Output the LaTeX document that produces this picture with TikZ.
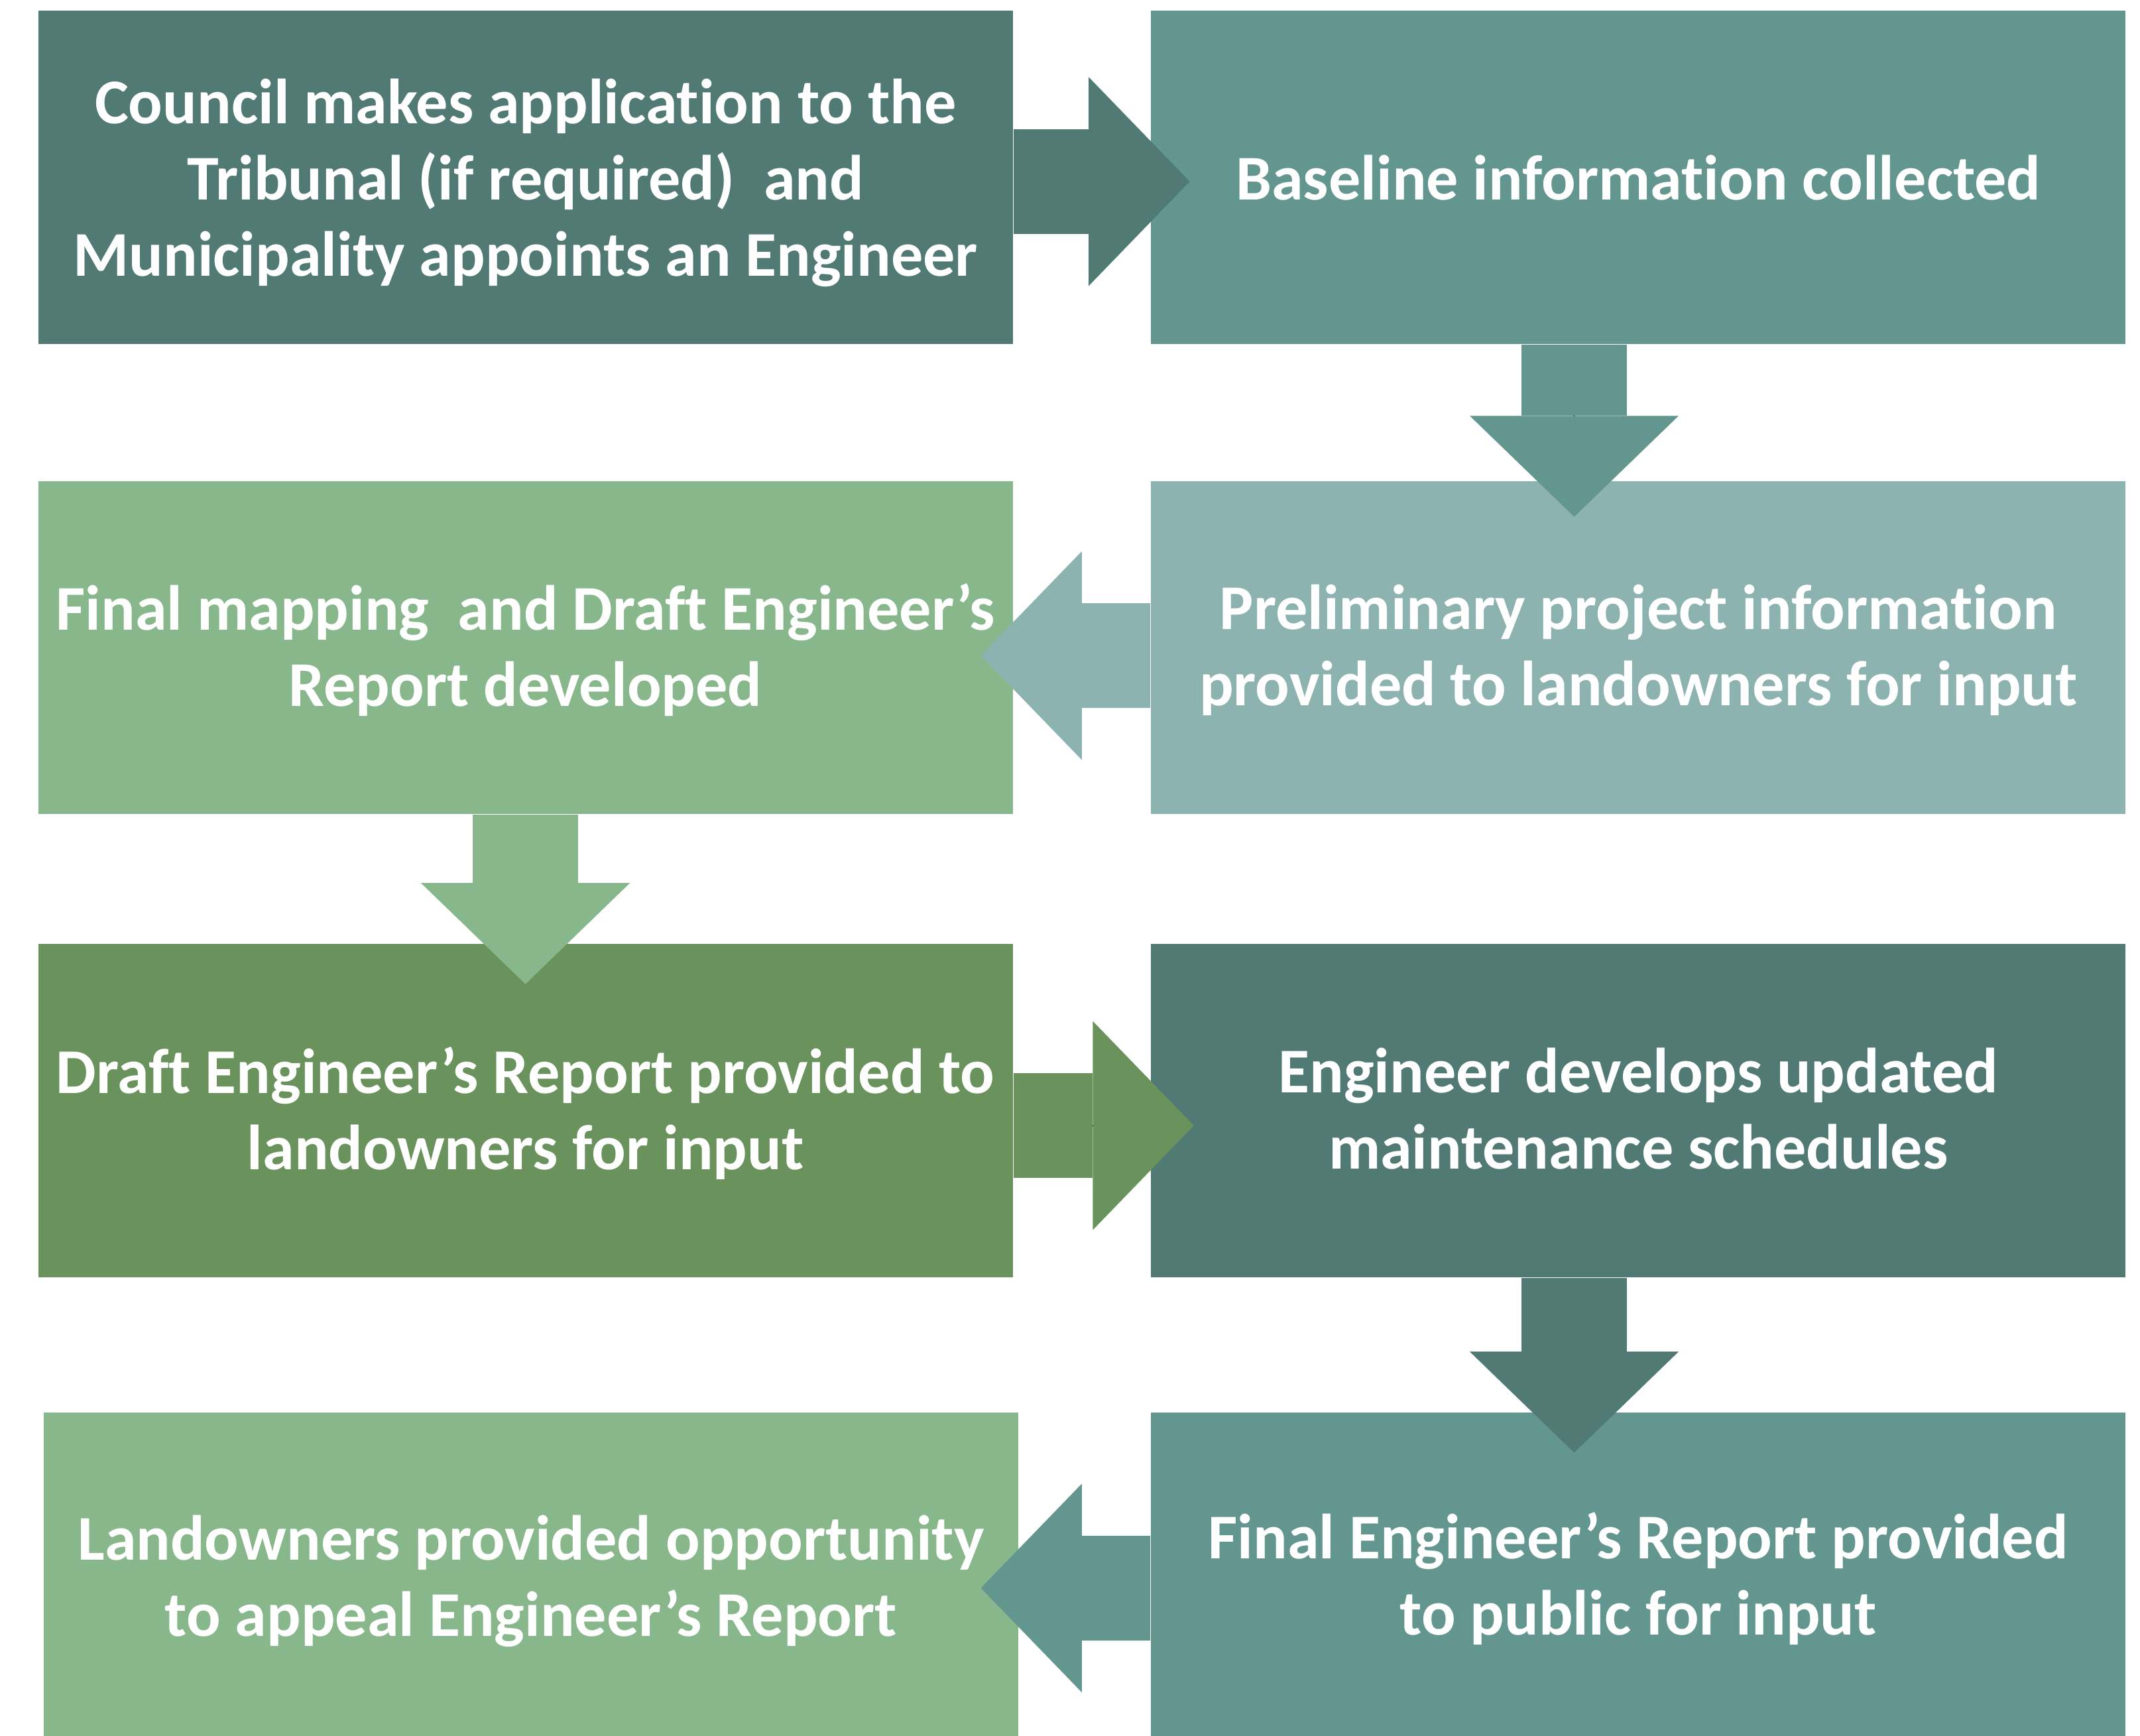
\documentclass[tikz,border=0pt]{standalone}
\usepackage{fontspec}
\setmainfont{Carlito}[RawFeature={-liga;-clig;-calt;-dlig}]
\usepackage{tikz}
\usetikzlibrary{arrows.meta, positioning}

\definecolor{tealdark}{HTML}{517A75}
\definecolor{tealmid}{HTML}{63968F}
\definecolor{teallight}{HTML}{8CB3AF}
\definecolor{greenlight}{HTML}{87B78A}
\definecolor{greenmid}{HTML}{6A925C}

\tikzset{
  stage/.style={minimum width=7.14cm, minimum height=2.44cm, inner sep=0pt,
    text depth=0.035cm, text=white, align=center,
    font=\fontsize{13.3}{15.9}\selectfont\bfseries},
  flow/.style={line width=0.77cm,
    preaction={draw, arrows=-, shorten >=0.70cm},
    -{Triangle[length=0.74cm, width=1.53cm, line width=0pt]}}
}

\begin{document}
\begin{tikzpicture}
\useasboundingbox (0,0) rectangle (15.68,-12.72);

\node[stage, fill=tealdark, text depth=0pt] (apply) at (3.85,-1.30) {Council makes application to the\\Tribunal (if required)\ \ and\\Municipality appoints an Engineer};
\node[stage, fill=tealmid, text depth=0pt, right=1cm of apply] (baseline) {Baseline information collected};
\node[stage, fill=teallight, below=0.99cm of baseline] (prelim) {Preliminary project information\\provided to landowners for input};
\node[stage, fill=greenlight, left=1cm of prelim] (mapping) {Final mapping\ \ and Draft Engineer’s\\Report developed};
\node[stage, fill=greenmid, below=0.94cm of mapping] (draft) {Draft Engineer’s Report provided to\\landowners for input};
\node[stage, fill=tealdark, right=1cm of draft] (schedules) {Engineer develops updated\\maintenance schedules};
\node[stage, fill=tealmid, minimum height=2.39cm, below=0.98cm of schedules] (final) {Final Engineer’s Report provided\\to public for input};
\node[stage, fill=greenlight, minimum height=2.39cm, text depth=0pt, left=0.96cm of final] (appeal) {Landowners provided opportunity\\to appeal Engineer’s Report};

\draw[flow, tealdark] ([yshift=-0.03cm]apply.east) -- ([xshift=0.29cm,yshift=-0.03cm]baseline.west);
\draw[flow, tealmid] ([xshift=-0.47cm]baseline.south) -- ([xshift=-0.47cm,yshift=-0.27cm]prelim.north);
\draw[flow, teallight] ([yshift=-0.06cm]prelim.west) -- ([xshift=-0.24cm,yshift=-0.06cm]mapping.east);
\draw[flow, greenlight] (mapping.south) -- ([yshift=-0.30cm]draft.north);
\draw[flow, greenmid] ([yshift=-0.11cm]draft.east) -- ([xshift=0.32cm,yshift=-0.11cm]schedules.west);
\draw[flow, tealdark] ([xshift=-0.47cm]schedules.south) -- ([xshift=-0.47cm,yshift=-0.30cm]final.north);
\draw[flow, tealmid] ([yshift=-0.09cm]final.west) -- ([xshift=-0.28cm,yshift=-0.09cm]appeal.east);
\end{tikzpicture}
\end{document}
